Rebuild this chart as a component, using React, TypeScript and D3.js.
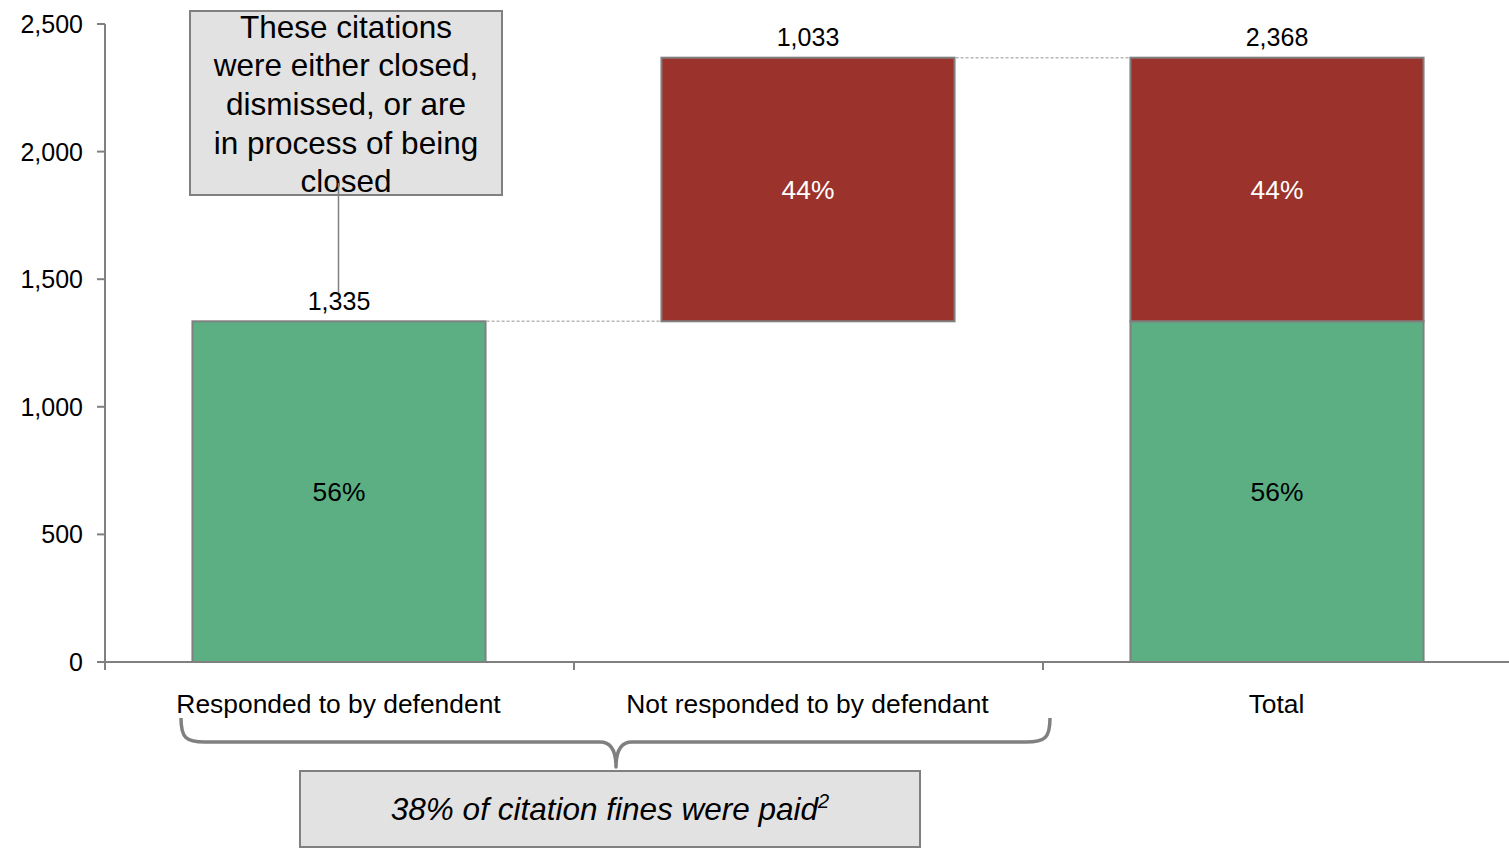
import React from "react";
import * as d3 from "d3";

const categories = ["Responded to by defendent", "Not responded to by defendant", "Total"];
const floatBase = [0, 1335, 0];
const respondedValues = [1335, 0, 1335];
const notRespondedValues = [0, 1033, 1033];
const respondedPct = "56%";
const notRespondedPct = "44%";
const yTicks = [0, 500, 1000, 1500, 2000, 2500];
const noteLines = [
  "These citations",
  "were either closed,",
  "dismissed, or are",
  "in process of being",
  "closed",
];
const footNote = "38% of citation fines were paid";
const footNoteSup = "2";

const W = 1509;
const H = 851;
const FONT = "'Liberation Sans', Arial, Helvetica, sans-serif";
const GRAY = "#808080";
const GREEN = "#5BAF83";
const RED = "#9B332C";
const BOXFILL = "#E2E2E2";

export default function App() {
  const y = d3.scaleLinear().domain([0, 2500]).range([662, 24]);
  const x = d3
    .scaleBand<string>()
    .domain(categories)
    .range([105, 1512])
    .paddingInner(0.375)
    .paddingOuter(0.1875);
  const bw = x.bandwidth();
  const fmt = d3.format(",");
  const step = x.step();
  const bandStarts = categories.map((c) => (x(c) as number) - step * 0.1875);

  const tops = categories.map((_, i) => floatBase[i] + respondedValues[i] + notRespondedValues[i]);
  const labelValues = categories.map((_, i) => respondedValues[i] + notRespondedValues[i]);

  const c0 = (x(categories[0]) as number) + bw / 2;

  return (
    <svg
      width={W}
      height={H}
      style={{ position: "absolute", left: 0, top: 0, background: "#fff" }}
      fontFamily={FONT}
    >
      {/* bars */}
      {categories.map((c, i) => {
        const bx = (x(c) as number) - 0.5;
        const g0 = floatBase[i];
        const g1 = g0 + respondedValues[i];
        const r1 = g1 + notRespondedValues[i];
        return (
          <g key={c}>
            {respondedValues[i] > 0 && (
              <g>
                <rect x={bx} y={y(g1)} width={bw} height={y(g0) - y(g1)} fill={GREEN} stroke={GRAY} strokeWidth={2} />
                <text x={bx + bw / 2} y={(y(g0) + y(g1)) / 2 + 9.3} textAnchor="middle" fontSize={26.4} fill="#000">
                  {respondedPct}
                </text>
              </g>
            )}
            {notRespondedValues[i] > 0 && (
              <g>
                <rect x={bx} y={y(r1)} width={bw} height={y(g1) - y(r1)} fill={RED} stroke={GRAY} strokeWidth={2} />
                <text x={bx + bw / 2} y={(y(g1) + y(r1)) / 2 + 9.3} textAnchor="middle" fontSize={26.4} fill="#fff">
                  {notRespondedPct}
                </text>
              </g>
            )}
            <text x={bx + bw / 2} y={y(tops[i]) - 11.5} textAnchor="middle" fontSize={25} fill="#000">
              {fmt(labelValues[i])}
            </text>
          </g>
        );
      })}

      {/* dotted connectors */}
      {categories.slice(0, -1).map((c, i) => {
        const x1 = (x(c) as number) + bw;
        const x2 = x(categories[i + 1]) as number;
        return (
          <line key={"conn" + i} x1={x1 + 0.5} x2={x2 - 1.5} y1={y(tops[i])} y2={y(tops[i])} stroke="#B8B8B8" strokeWidth={1.5} strokeDasharray="3,2" />
        );
      })}

      {/* y axis */}
      <line x1={105} x2={105} y1={y(2500)} y2={670} stroke={GRAY} strokeWidth={2} />
      {yTicks.map((t) => (
        <g key={t}>
          <line x1={97} x2={105} y1={y(t)} y2={y(t)} stroke={GRAY} strokeWidth={2} />
          <text x={83} y={y(t) + 9} textAnchor="end" fontSize={25} fill="#000">
            {fmt(t)}
          </text>
        </g>
      ))}

      {/* x axis */}
      <line x1={105} x2={W} y1={y(0)} y2={y(0)} stroke={GRAY} strokeWidth={2} />
      {bandStarts.map((bs, i) => (
        <line key={"xt" + i} x1={bs} x2={bs} y1={y(0)} y2={670} stroke={GRAY} strokeWidth={2} />
      ))}
      {categories.map((c) => (
        <text key={"xl" + c} x={(x(c) as number) + bw / 2 - 1} y={713} textAnchor="middle" fontSize={26.4} fill="#000">
          {c}
        </text>
      ))}

      {/* top annotation box */}
      <rect x={190} y={11} width={312} height={184} fill={BOXFILL} stroke={GRAY} strokeWidth={2} />
      {noteLines.map((l, i) => (
        <text key={"nl" + i} x={346} y={37.5 + i * 38.7} textAnchor="middle" fontSize={31.5} fill="#000">
          {l}
        </text>
      ))}
      <line x1={c0 - 1} x2={c0 - 1} y1={183} y2={293} stroke={GRAY} strokeWidth={1.5} />

      {/* brace */}
      <path
        d="M181,718 C181,738 186,742 205,742 L600,742 Q616,742 616,767 Q616,742 632,742 L1026,742 C1045,742 1050,738 1050,718"
        fill="none"
        stroke={GRAY}
        strokeWidth={3.5}
        strokeLinejoin="round"
      />

      {/* bottom box */}
      <rect x={300} y={771} width={620} height={76} fill={BOXFILL} stroke={GRAY} strokeWidth={2} />
      <text x={610} y={820} textAnchor="middle" fontSize={31.5} fontStyle="italic" fill="#000">
        {footNote}
        <tspan fontSize={20} dy={-12}>
          {footNoteSup}
        </tspan>
      </text>
    </svg>
  );
}
